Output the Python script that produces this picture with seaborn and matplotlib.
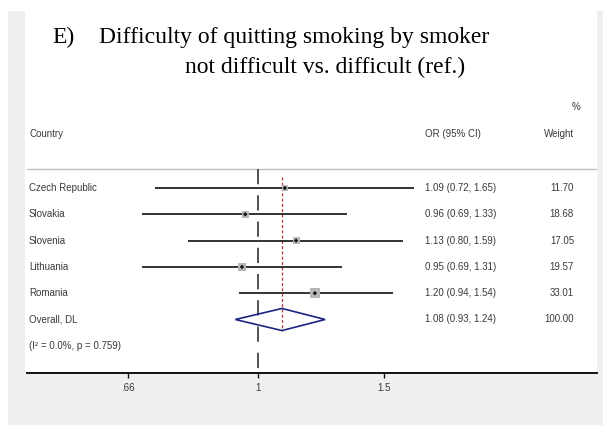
import matplotlib
matplotlib.use("Agg")
import matplotlib.pyplot as plt
import matplotlib.transforms as mtransforms
from matplotlib.patches import Rectangle, Polygon
import pandas as pd
import seaborn as sns

# ---- data -------------------------------------------------------------
countries = ["Czech Republic", "Slovakia", "Slovenia", "Lithuania", "Romania"]
odds_ratio = [1.09, 0.96, 1.13, 0.95, 1.20]
ci_low = [0.72, 0.69, 0.80, 0.69, 0.94]
ci_high = [1.65, 1.33, 1.59, 1.31, 1.54]
weights = [11.70, 18.68, 17.05, 19.57, 33.01]

overall_label = "Overall, DL"
overall_or = 1.08
overall_low = 0.93
overall_high = 1.24
overall_weight = 100.00
heterogeneity = "(I² = 0.0%, p = 0.759)"

tick_values = [0.66, 1, 1.5]
tick_labels = [".66", "1", "1.5"]

panel_tag = "E)"
title_line1 = "Difficulty of quitting smoking by smoker"
title_line2 = "not difficult vs. difficult (ref.)"

# ---- style ------------------------------------------------------------
sns.set_style("white")
plt.rcParams["font.family"] = ["Liberation Sans", "DejaVu Sans"]
plt.rcParams["lines.scale_dashes"] = False

W, H = 603, 425
fig = plt.figure(figsize=(W / 100, H / 100), dpi=100)
fig.patch.set_facecolor("white")

def px_rect(x0, y0, x1, y1, color):
    fig.patches.append(Rectangle((x0 / W, 1 - y1 / H), (x1 - x0) / W, (y1 - y0) / H,
                                 transform=fig.transFigure, facecolor=color,
                                 edgecolor="none", zorder=-10))

# grey frame around the white graph region
px_rect(8, 11, W, H, "#efefef")
px_rect(25, 0, 597, 373, "white")

# title
title_kw = dict(family="Liberation Serif", fontsize=17, ha="left", va="center",
                color="#000000")
fig.text(52 / W, 1 - 37 / H, panel_tag, **title_kw)
fig.text(99 / W, 1 - 37 / H, title_line1, **title_kw)
fig.text(185 / W, 1 - 67 / H, title_line2, **title_kw)

# plot axes (x on log scale, rows on y)
ax_l, ax_r, ax_t, ax_b = 27, 597, 92, 373
ax = fig.add_axes([ax_l / W, 1 - ax_b / H, (ax_r - ax_l) / W, (ax_b - ax_t) / H])
ax.set_facecolor("none")
ax.set_xscale("log")
ax.set_xlim(0.477, 2.964)
row0_px, row_step = 188, 26.3
def row_of(px):
    return (px - row0_px) / row_step
ax.set_ylim(row_of(ax_b), row_of(ax_t))

df = pd.DataFrame({"country": countries, "or": odds_ratio, "lo": ci_low,
                   "hi": ci_high, "weight": weights})
df["row"] = range(len(df))
overall_row = len(df)
het_row = overall_row + 1

text_color = "#3a3a3a"

# separator under the header
ax.axhline(row_of(169), color="#bdbdbd", lw=1.0, zorder=1)

# null line at OR = 1, broken dashes
ax.plot([1, 1], [row_of(169), row_of(ax_b)], color="#222222", lw=1.1,
        linestyle=(0, (11.0, 7.9)), zorder=2, solid_capstyle="butt")

# overall effect line
ax.plot([overall_or, overall_or], [row_of(177), overall_row + 0.43],
        color="#b5383d", lw=0.9, linestyle=(0, (2.2, 1.6)), zorder=2)

# confidence intervals
ax.hlines(df["row"], df["lo"], df["hi"], color="#111111", lw=1.2, zorder=3)

# weight boxes (area proportional to study weight)
sns.scatterplot(data=df, x="or", y="row", size="weight",
                sizes={w: 1.5 * w for w in weights}, marker="s",
                color="#b8b8b8", edgecolor="none", legend=False, ax=ax, zorder=4)
# point estimates
sns.scatterplot(data=df, x="or", y="row", marker="D", s=5, color="#111111",
                edgecolor="none", legend=False, ax=ax, zorder=5)

# pooled estimate diamond
ax.add_patch(Polygon([(overall_low, overall_row), (overall_or, overall_row - 0.42),
                      (overall_high, overall_row), (overall_or, overall_row + 0.42)],
                     closed=True, facecolor="none", edgecolor="#1c2580", lw=1.2,
                     zorder=6))

# table text
tr = mtransforms.blended_transform_factory(ax.transAxes, ax.transData)
def fx(px):
    return (px - ax_l) / (ax_r - ax_l)

fs = 7
ax.text(fx(29), row_of(134), "Country", transform=tr, fontsize=fs, color=text_color,
        ha="left", va="center")
ax.text(fx(425), row_of(134), "OR (95% CI)", transform=tr, fontsize=fs,
        color=text_color, ha="left", va="center")
ax.text(fx(580), row_of(107), "%", transform=tr, fontsize=fs, color=text_color,
        ha="right", va="center")
ax.text(fx(574), row_of(134), "Weight", transform=tr, fontsize=fs, color=text_color,
        ha="right", va="center")

for _, r in df.iterrows():
    ax.text(fx(29), r["row"], r["country"], transform=tr, fontsize=fs,
            color=text_color, ha="left", va="center")
    ax.text(fx(425), r["row"], f"{r['or']:.2f} ({r['lo']:.2f}, {r['hi']:.2f})",
            transform=tr, fontsize=fs, color=text_color, ha="left", va="center")
    ax.text(fx(574), r["row"], f"{r['weight']:.2f}", transform=tr, fontsize=fs,
            color=text_color, ha="right", va="center")

ax.text(fx(29), overall_row, overall_label, transform=tr, fontsize=fs,
        color=text_color, ha="left", va="center")
ax.text(fx(425), overall_row,
        f"{overall_or:.2f} ({overall_low:.2f}, {overall_high:.2f})",
        transform=tr, fontsize=fs, color=text_color, ha="left", va="center")
ax.text(fx(574), overall_row, f"{overall_weight:.2f}", transform=tr, fontsize=fs,
        color=text_color, ha="right", va="center")
ax.text(fx(29), het_row, heterogeneity, transform=tr, fontsize=fs,
        color=text_color, ha="left", va="center")

# axis: only the bottom line with three ticks
for side in ["top", "left", "right"]:
    ax.spines[side].set_visible(False)
ax.spines["bottom"].set_color("#111111")
ax.spines["bottom"].set_linewidth(1.4)
ax.set_xticks(tick_values)
ax.set_xticklabels(tick_labels)
ax.xaxis.set_minor_locator(matplotlib.ticker.NullLocator())
ax.tick_params(axis="x", which="major", bottom=True, length=3.5, width=1.0,
               color="#111111", pad=4, labelsize=fs, labelcolor=text_color)
ax.set_yticks([])
ax.set_xlabel("")
ax.set_ylabel("")

fig.savefig("out.png", dpi=100)
